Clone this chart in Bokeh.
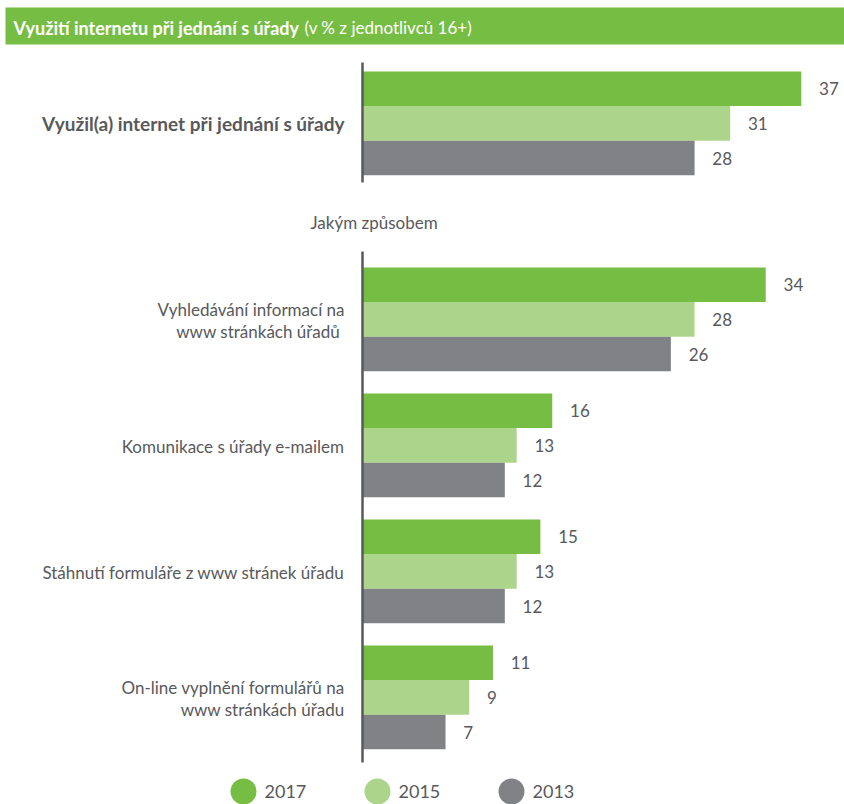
from bokeh.plotting import figure
from bokeh.models import Range1d, ColumnDataSource
from bokeh.core.properties import value
from bokeh.embed import file_html
from bokeh.resources import INLINE

# ---------------- data ----------------
title_bold = "Využití internetu při jednání s úřady"
title_rest = "(v % z jednotlivců 16+)"
subhead = "Jakým způsobem"
top_categories = ["Využil(a) internet při jednání s úřady"]
top_2017 = [37]
top_2015 = [31]
top_2013 = [28]
categories = [
    "Vyhledávání informací na\nwww stránkách úřadů ",
    "Komunikace s úřady e-mailem",
    "Stáhnutí formuláře z www stránek úřadu",
    "On-line vyplnění formulářů na\nwww stránkách úřadu",
]
v2017 = [34, 16, 15, 11]
v2015 = [28, 13, 13, 9]
v2013 = [26, 12, 12, 7]
years = ["2017", "2015", "2013"]
colors = ["#76bd43", "#acd58b", "#808285"]

# ---------------- layout ----------------
W, H = 844, 804
PX_PER_UNIT = 11.86
ZERO_PX = 362
x_start = -ZERO_PX / PX_PER_UNIT
x_end = (W - ZERO_PX) / PX_PER_UNIT


def xd(px):
    return x_start + px / PX_PER_UNIT


TEXT = "#58595b"
FONT = "Lato"
BAR_H = 34.6
TOP_GROUP_TOP = [71]
BOT_GROUP_TOP = [267 + 126 * g for g in range(len(categories))]

p = figure(width=W, height=H, x_range=Range1d(x_start, x_end), y_range=Range1d(H, 0),
           output_backend="svg", toolbar_location=None, x_axis_type=None, y_axis_type=None,
           min_border=0)
p.min_border_left = p.min_border_right = p.min_border_top = p.min_border_bottom = 0
p.grid.visible = False
p.outline_line_color = None
p.background_fill_color = "white"
p.border_fill_color = "white"


def add_panel(tops, series):
    ys, rights, cols, labx, labt = [], [], [], [], []
    for g, top in enumerate(tops):
        for i, vals in enumerate(series):
            ys.append(top + (i + 0.5) * BAR_H)
            rights.append(vals[g])
            cols.append(colors[i])
            labx.append(vals[g] + 1.5)
            labt.append(str(vals[g]))
    src = ColumnDataSource(dict(y=ys, right=rights, color=cols, lx=labx, lt=labt))
    p.hbar(y="y", left=0, right="right", height=BAR_H, color="color", line_color=None, source=src)
    p.text(x="lx", y="y", text="lt", source=src, text_font=value(FONT), text_font_size="17px",
           text_color=TEXT, text_baseline="middle", text_align="left")


add_panel(TOP_GROUP_TOP, [top_2017, top_2015, top_2013])
add_panel(BOT_GROUP_TOP, [v2017, v2015, v2013])

# axis lines
p.segment(x0=[0, 0], x1=[0, 0], y0=[62, 251], y1=[182, 762], line_color=TEXT, line_width=2.5)

# category labels
p.text(x=[xd(344)], y=[TOP_GROUP_TOP[0] + 1.5 * BAR_H], text=top_categories, text_font=value(FONT),
       text_font_size="19px", text_font_style="bold", text_color=TEXT, text_align="right",
       text_baseline="middle")
p.text(x=[xd(344)] * len(categories), y=[t + 1.5 * BAR_H + 1 for t in BOT_GROUP_TOP], text=categories,
       text_font=value(FONT), text_font_size="17px", text_color=TEXT, text_align="right",
       text_baseline="middle", text_line_height=1.08)

# subheading
p.text(x=[xd(310)], y=[222], text=[subhead], text_font=value(FONT), text_font_size="17px",
       text_color=TEXT, text_align="left", text_baseline="middle")

# title bar
p.quad(left=[xd(5)], right=[xd(W)], top=[7], bottom=[44], color=colors[0], line_color=None)
p.text(x=[xd(13)], y=[27], text=[title_bold], text_font=value(FONT), text_font_size="18px",
       text_font_style="bold", text_color="white", text_baseline="middle")
p.text(x=[xd(304)], y=[27], text=[title_rest], text_font=value(FONT), text_font_size="17px",
       text_color="white", text_baseline="middle")

# legend
leg_x = [243 + 134 * i for i in range(len(years))]
p.scatter(x=[xd(x) for x in leg_x], y=[791] * len(years), size=26, marker="circle",
          color=colors, line_color=None)
p.text(x=[xd(x + 21) for x in leg_x], y=[791] * len(years), text=years, text_font=value(FONT),
       text_font_size="18px", text_color=TEXT, text_baseline="middle")

open("out.html", "w").write(file_html(p, INLINE))
